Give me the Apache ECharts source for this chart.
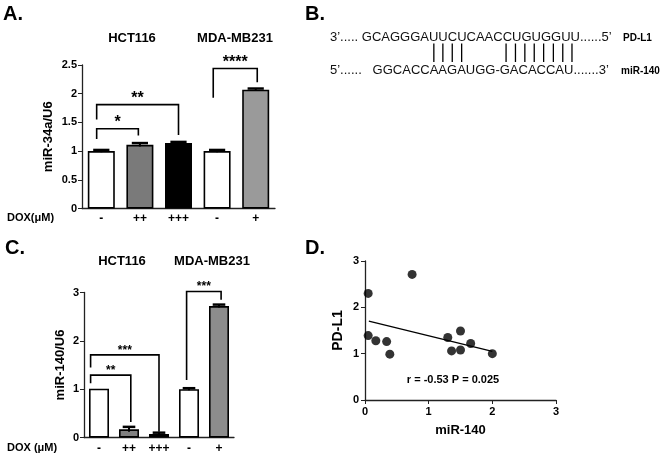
<!DOCTYPE html>
<html><head><meta charset="utf-8">
<script src="https://cdn.jsdelivr.net/npm/echarts@6/dist/echarts.min.js"></script>
<style>html,body{margin:0;padding:0;background:#fff}#c{width:662px;height:461px}</style>
</head><body><div id="c"></div>
<script>
// ---------- data ----------
const doxLabels = ['-', '++', '+++', '-', '+'];
const cellLinesAC = ['HCT116', 'MDA-MB231'];
const miR34aValues = [1.00, 1.11, 1.14, 1.00, 2.07];
const miR34aErrors = [0.02, 0.03, 0.02, 0.02, 0.02];
const miR140Values = [1.01, 0.17, 0.07, 1.00, 2.72];
const miR140Errors = [0.00, 0.05, 0.03, 0.02, 0.03];
const barColorsA = ['#ffffff', '#7a7a7a', '#000000', '#ffffff', '#9a9a9a'];
const barColorsC = ['#ffffff', '#808080', '#000000', '#ffffff', '#8c8c8c'];
// significance brackets: [xLeft, xRight, yTop, yLeftEnd, yRightEnd] (category units / values)
const bracketsA = [[-0.12, 0.96, 1.39, 1.21, 1.27], [-0.12, 2.0, 1.81, 1.55, 1.28], [2.9, 4.04, 2.44, 1.93, 2.20]];
const starsA = ['*', '**', '****'];
const bracketsC = [[-0.28, 1.06, 1.29, 1.12, 0.32], [-0.28, 2.0, 1.71, 1.45, 0.12], [2.92, 4.07, 3.02, 1.19, 2.85]];
const starsC = ['**', '***', '***'];
const yTicksA = [0, 0.5, 1, 1.5, 2, 2.5];
const yTicksC = [0, 1, 2, 3];
// panel D
const miR140Expr = [0.05, 0.05, 0.17, 0.34, 0.39, 0.74, 1.30, 1.36, 1.50, 1.50, 1.66, 2.00];
const pdl1Expr   = [2.30, 1.39, 1.28, 1.26, 0.99, 2.71, 1.35, 1.06, 1.49, 1.08, 1.22, 1.00];
const fitLine = [[0.06, 1.70], [2.00, 1.05]];
const corrText = 'r = -0.53 P = 0.025';
// panel B
const pdl1Seq = 'GCAGGGAUUCUCAACCUGUGGUU';
const mir140Seq = 'GGCACCAAGAUGG-GACACCAU';
const pairTop = [7, 8, 9, 10, 15, 16, 17, 18, 19, 20, 21, 22];
const pairBottom = [6, 7, 8, 9, 14, 15, 16, 17, 18, 19, 20, 21];

// ---------- helpers ----------
const FONT = "'Liberation Sans', Arial, Helvetica, sans-serif";
const chart = echarts.init(document.getElementById('c'), null, {renderer: 'canvas', width: 662, height: 461});

function xPix(api, x) {
  const i = Math.round(x);
  return api.coord([i, 0])[0] + (x - i) * api.size([1, 0])[0];
}
function errorSeries(ax, values, errors) {
  return {
    type: 'custom', xAxisIndex: ax, yAxisIndex: ax, z: 5, silent: true,
    data: values.map((v, i) => [i, v, errors[i]]),
    renderItem: (params, api) => {
      const i = api.value(0), v = api.value(1), e = api.value(2);
      if (!e) return null;
      const lo = api.coord([i, v - e]), hi = api.coord([i, v + e]);
      const cw = api.size([1, 0])[0] * 0.42;
      return {type: 'group', children: [
        {type: 'line', shape: {x1: hi[0], y1: lo[1], x2: hi[0], y2: hi[1]}, style: {stroke: '#000', lineWidth: 2}},
        {type: 'line', shape: {x1: hi[0] - cw / 2, y1: hi[1], x2: hi[0] + cw / 2, y2: hi[1]}, style: {stroke: '#000', lineWidth: 2.5}}
      ]};
    }
  };
}
function bracketSeries(ax, brackets, stars, starSize) {
  return {
    type: 'custom', xAxisIndex: ax, yAxisIndex: ax, z: 6, silent: true, clip: false,
    data: brackets.map((b, k) => b.concat([k])),
    renderItem: (params, api) => {
      const xl = xPix(api, api.value(0)), xr = xPix(api, api.value(1));
      const yt = api.coord([0, api.value(2)])[1];
      const yl = api.coord([0, api.value(3)])[1];
      const yr = api.coord([0, api.value(4)])[1];
      const k = api.value(5);
      return {type: 'group', children: [
        {type: 'polyline', shape: {points: [[xl, yl], [xl, yt], [xr, yt], [xr, yr]]},
         style: {stroke: '#000', lineWidth: 1.6, fill: null}},
        {type: 'text', x: (xl + xr) / 2, y: yt + starSize * 0.12,
         style: {text: stars[k], fill: '#000', font: 'bold ' + starSize + 'px ' + FONT,
                 align: 'center', verticalAlign: 'bottom', textAlign: 'center', textVerticalAlign: 'bottom'}}
      ]};
    }
  };
}
function txt(text, x, y, size, opts) {
  opts = opts || {};
  return {type: 'text', x: x, y: y, rotation: opts.rotation || 0, silent: true,
    style: {text: text, fill: opts.color || '#000', font: (opts.weight || 'bold') + ' ' + size + 'px ' + FONT,
      align: opts.align || 'center', verticalAlign: opts.valign || 'middle',
      textAlign: opts.align || 'center', textVerticalAlign: opts.valign || 'middle'}};
}
const axisLineStyle = {show: true, lineStyle: {color: '#222', width: 1.3}};
const tickLabel = {color: '#000', fontWeight: 'bold', fontSize: 11, fontFamily: FONT};

// ---------- panel B layout from text metrics ----------
const measCtx = document.createElement('canvas').getContext('2d');
const seqFont = '13px ' + FONT;
measCtx.font = seqFont;
const topPrefix = '3\u2019..... ', topSuffix = '......5\u2019';
const botPrefix = '5\u2019......   ', botSuffix = '.......3\u2019';
const bx = 330;
function charCenter(prefix, seq, k) {
  return bx + measCtx.measureText(prefix + seq.slice(0, k)).width + measCtx.measureText(seq[k]).width / 2;
}
const pairLines = pairTop.map((t, j) => {
  const x = (charCenter(topPrefix, pdl1Seq, t) + charCenter(botPrefix, mir140Seq, pairBottom[j])) / 2;
  return {type: 'line', silent: true, shape: {x1: x, y1: 43.5, x2: x, y2: 62}, style: {stroke: '#000', lineWidth: 1.3}};
});

const graphics = [
  txt('A.', 3, 14, 20, {align: 'left'}),
  txt('B.', 305, 14, 20, {align: 'left'}),
  txt('C.', 5, 248, 20, {align: 'left'}),
  txt('D.', 305, 248, 20, {align: 'left'}),
  txt(cellLinesAC[0], 132, 38, 13),
  txt(cellLinesAC[1], 235, 38, 13),
  txt(cellLinesAC[0], 122, 261, 13),
  txt(cellLinesAC[1], 212, 261, 13),
  txt('DOX(\u03bcM)', 7, 218, 11, {align: 'left'}),
  txt('DOX (\u03bcM)', 7, 448, 11, {align: 'left'}),
  txt(topPrefix + pdl1Seq + topSuffix, bx, 37, 13, {align: 'left', weight: 'normal', color: '#111'}),
  txt(botPrefix + mir140Seq + botSuffix, bx, 70, 13, {align: 'left', weight: 'normal', color: '#111'}),
  txt('PD-L1', 623, 38.5, 10, {align: 'left'}),
  txt('miR-140', 621, 71.5, 10, {align: 'left'}),
  txt(corrText, 453, 380, 11)
].concat(pairLines);

const option = {
  animation: false,
  backgroundColor: '#fff',
  textStyle: {fontFamily: FONT},
  grid: [
    {left: 82, top: 65, width: 193, height: 143.5, outerBoundsMode: 'none', containLabel: false},
    {left: 84, top: 292.5, width: 150, height: 145, outerBoundsMode: 'none', containLabel: false},
    {left: 365, top: 261, width: 191, height: 139, outerBoundsMode: 'none', containLabel: false}
  ],
  xAxis: [
    {type: 'category', gridIndex: 0, data: doxLabels, boundaryGap: true, axisLine: axisLineStyle,
     axisTick: {show: false}, splitLine: {show: false},
     axisLabel: {color: '#000', fontWeight: 'bold', fontSize: 12, fontFamily: FONT, margin: 4, interval: 0}},
    {type: 'category', gridIndex: 1, data: doxLabels, boundaryGap: true, axisLine: axisLineStyle,
     axisTick: {show: false}, splitLine: {show: false},
     axisLabel: {color: '#000', fontWeight: 'bold', fontSize: 12, fontFamily: FONT, margin: 5, interval: 0}},
    {type: 'value', gridIndex: 2, min: 0, max: 3, interval: 1, axisLine: axisLineStyle,
     axisTick: {show: true, length: 4, lineStyle: {color: '#222'}}, splitLine: {show: false},
     axisLabel: Object.assign({margin: 6}, tickLabel),
     name: 'miR-140', nameLocation: 'middle', nameGap: 24,
     nameTextStyle: {color: '#000', fontWeight: 'bold', fontSize: 13, fontFamily: FONT}}
  ],
  yAxis: [
    {type: 'value', gridIndex: 0, min: yTicksA[0], max: yTicksA[yTicksA.length - 1], interval: yTicksA[1] - yTicksA[0],
     axisLine: axisLineStyle, axisTick: {show: true, length: 4, lineStyle: {color: '#222'}},
     splitLine: {show: false}, axisLabel: Object.assign({margin: 5}, tickLabel),
     name: 'miR-34a/U6', nameLocation: 'middle', nameGap: 27,
     nameTextStyle: {color: '#000', fontWeight: 'bold', fontSize: 13, fontFamily: FONT}},
    {type: 'value', gridIndex: 1, min: yTicksC[0], max: yTicksC[yTicksC.length - 1], interval: yTicksC[1] - yTicksC[0],
     axisLine: axisLineStyle, axisTick: {show: true, length: 4, lineStyle: {color: '#222'}},
     splitLine: {show: false}, axisLabel: Object.assign({margin: 5}, tickLabel),
     name: 'miR-140/U6', nameLocation: 'middle', nameGap: 17,
     nameTextStyle: {color: '#000', fontWeight: 'bold', fontSize: 13, fontFamily: FONT}},
    {type: 'value', gridIndex: 2, min: 0, max: 3, interval: 1,
     axisLine: axisLineStyle, axisTick: {show: true, length: 4, lineStyle: {color: '#222'}},
     splitLine: {show: false}, axisLabel: Object.assign({margin: 6}, tickLabel),
     name: 'PD-L1', nameLocation: 'middle', nameGap: 20,
     nameTextStyle: {color: '#000', fontWeight: 'bold', fontSize: 14, fontFamily: FONT}}
  ],
  series: [
    {type: 'bar', xAxisIndex: 0, yAxisIndex: 0, barWidth: 27,
     data: miR34aValues.map((v, i) => ({value: v, itemStyle: {color: barColorsA[i]}})),
     itemStyle: {borderColor: '#000', borderWidth: 1.6}},
    errorSeries(0, miR34aValues, miR34aErrors),
    bracketSeries(0, bracketsA, starsA, 16),
    {type: 'bar', xAxisIndex: 1, yAxisIndex: 1, barWidth: 20,
     data: miR140Values.map((v, i) => ({value: v, itemStyle: {color: barColorsC[i]}})),
     itemStyle: {borderColor: '#000', borderWidth: 1.6}},
    errorSeries(1, miR140Values, miR140Errors),
    bracketSeries(1, bracketsC, starsC, 12),
    {type: 'scatter', xAxisIndex: 2, yAxisIndex: 2, symbolSize: 9,
     itemStyle: {color: '#000'}, data: miR140Expr.map((x, i) => [x, pdl1Expr[i]])},
    {type: 'line', xAxisIndex: 2, yAxisIndex: 2, data: fitLine, symbol: 'none',
     lineStyle: {color: '#000', width: 1.3}}
  ],
  graphic: graphics
};
chart.setOption(option);
</script>
</body></html>
